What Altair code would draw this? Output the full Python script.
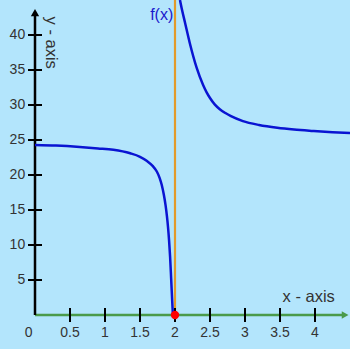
import altair as alt
import pandas as pd

# ---- data ----
left_x = [0.0, 0.3, 0.64, 0.9, 1.12, 1.36, 1.5, 1.6, 1.68, 1.74, 1.78, 1.81, 1.84, 1.865, 1.885,
          1.90, 1.915, 1.93, 1.945, 1.96, 1.97]
left_y = [24.3, 24.2, 24.0, 23.8, 23.6, 23.1, 22.6, 22.0, 21.3, 20.5, 19.6, 18.6, 17.2, 15.7, 14.1,
          12.6, 10.7, 8.3, 5.2, 2.0, 0.0]
right_x = [2.071, 2.10, 2.14, 2.21, 2.31, 2.40, 2.45, 2.50, 2.57, 2.64, 2.72, 2.80, 2.97, 3.2,
           3.46, 3.7, 3.97, 4.25, 4.5]
right_y = [45.0, 43.6, 41.9, 38.9, 35.3, 32.9, 31.85, 31.0, 30.05, 29.4, 28.85, 28.4, 27.7, 27.15,
           26.75, 26.5, 26.3, 26.12, 26.0]
x_ticks = [0.5, 1, 1.5, 2, 2.5, 3, 3.5, 4]
x_tick_labels = ["0.5", "1", "1.5", "2", "2.5", "3", "3.5", "4"]
y_ticks = [5, 10, 15, 20, 25, 30, 35, 40]
y_tick_labels = ["5", "10", "15", "20", "25", "30", "35", "40"]
asymptote_x = 2
zero_point = (2, 0)

XS = alt.Scale(domain=[0, 4.5], nice=False, zero=False)
YS = alt.Scale(domain=[0, 45], nice=False, zero=False)
FONT = "Liberation Sans"
LABEL = "#333333"

def X(f="x"):
    return alt.X(f"{f}:Q", scale=XS, axis=None)

def Y(f="y"):
    return alt.Y(f"{f}:Q", scale=YS, axis=None)

curve = pd.DataFrame(
    {"x": left_x + right_x, "y": left_y + right_y,
     "branch": ["L"] * len(left_x) + ["R"] * len(right_x)}
)

asym = alt.Chart(pd.DataFrame({"x": [asymptote_x], "y": [0], "y2": [45]})).mark_rule(
    color="#e39a2a", strokeWidth=2.2
).encode(x=X(), y=Y(), y2="y2:Q")

yaxis = alt.Chart(pd.DataFrame({"x": [0], "y": [0], "y2": [43.0]})).mark_rule(
    color="black", strokeWidth=2.5
).encode(x=X(), y=Y(), y2="y2:Q")
yarrow = alt.Chart(pd.DataFrame({"x": [0], "y": [43.2]})).mark_point(
    shape="triangle-up", filled=True, color="black", size=70, opacity=1
).encode(x=X(), y=Y())

ytick_df = pd.DataFrame({"y": y_ticks, "x": [-0.1] * 8, "x2": [0.1] * 8, "lab": y_tick_labels, "lx": [-0.14] * 8})
yticks = alt.Chart(ytick_df).mark_rule(color="black", strokeWidth=2).encode(x=X(), x2="x2:Q", y=Y())
ylabels = alt.Chart(ytick_df).mark_text(
    align="right", baseline="middle", font=FONT, fontSize=14, color=LABEL
).encode(x=X("lx"), y=Y(), text="lab:N")

xaxis = alt.Chart(pd.DataFrame({"x": [0], "x2": [4.4], "y": [0]})).mark_rule(
    color="#4a9a4a", strokeWidth=2.5
).encode(x=X(), x2="x2:Q", y=Y())
xarrow = alt.Chart(pd.DataFrame({"x": [4.43], "y": [0]})).mark_point(
    shape="triangle-right", filled=True, color="#4a9a4a", size=60, opacity=1
).encode(x=X(), y=Y())

xtick_df = pd.DataFrame({"x": x_ticks, "y": [-1.0] * 8, "y2": [1.0] * 8, "lab": x_tick_labels, "ly": [-2.6] * 8})
xticks = alt.Chart(xtick_df).mark_rule(color="black", strokeWidth=2).encode(x=X(), y=Y(), y2="y2:Q")
xlabels = alt.Chart(xtick_df).mark_text(
    align="center", baseline="middle", font=FONT, fontSize=14, color=LABEL
).encode(x=X(), y=Y("ly"), text="lab:N")

zero_lab = alt.Chart(pd.DataFrame({"x": [-0.09], "y": [-2.6], "t": ["0"]})).mark_text(
    align="center", baseline="middle", font=FONT, fontSize=14, color=LABEL
).encode(x=X(), y=Y(), text="t:N")

lines = alt.Chart(curve).mark_line(
    color="#0a14d2", strokeWidth=2.5, interpolate="monotone", clip=True
).encode(x=X(), y=Y(), detail="branch:N", order="x:Q")

dot = alt.Chart(pd.DataFrame({"x": [zero_point[0]], "y": [zero_point[1]]})).mark_point(
    shape="circle", filled=True, color="#ff0000", size=70, opacity=1
).encode(x=X(), y=Y())

texts_df = pd.DataFrame({
    "x": [3.91, 1.81],
    "y": [2.6, 42.9],
    "t": ["x - axis", "f(x)"],
})
xname = alt.Chart(texts_df.iloc[[0]]).mark_text(
    align="center", baseline="middle", font=FONT, fontSize=16.5, color=LABEL
).encode(x=X(), y=Y(), text="t:N")
fname = alt.Chart(texts_df.iloc[[1]]).mark_text(
    align="center", baseline="middle", font=FONT, fontSize=16, color="#1a1acc"
).encode(x=X(), y=Y(), text="t:N")
yname = alt.Chart(pd.DataFrame({"x": [0.225], "y": [38.9], "t": ["y - axis"]})).mark_text(
    align="center", baseline="middle", font=FONT, fontSize=16.5, color=LABEL, angle=90
).encode(x=X(), y=Y(), text="t:N")

chart = alt.layer(
    asym, xaxis, xarrow, xticks, xlabels, zero_lab,
    yaxis, yarrow, yticks, ylabels, lines, dot, xname, fname, yname
).properties(
    width=315, height=315,
    background="#b3e5fc",
    autosize=alt.AutoSizeParams(type="none"),
    padding={"left": 35, "top": 0, "right": 0, "bottom": 34},
).configure_view(stroke=None)

chart.save("out.html", embed_options={"renderer": "svg", "actions": False})
